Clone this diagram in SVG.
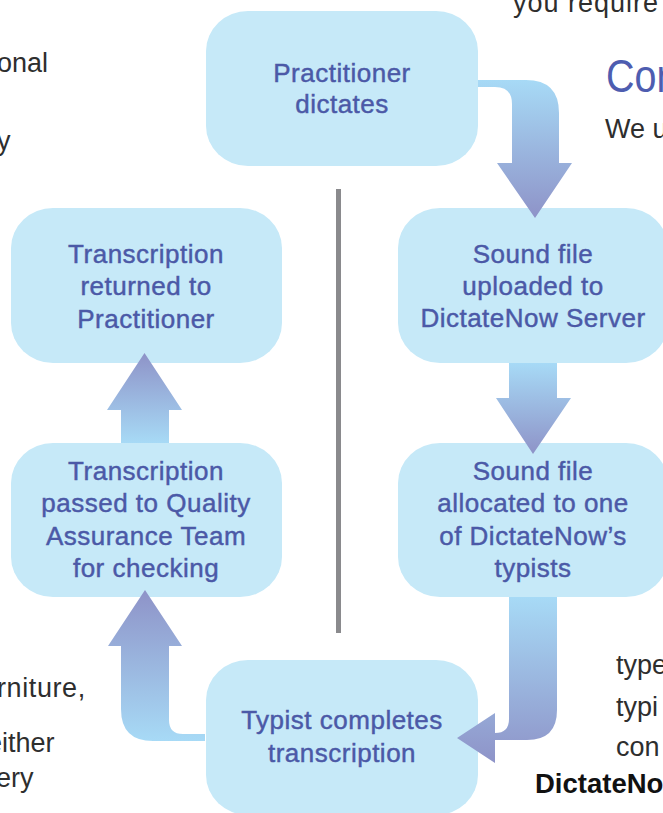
<svg xmlns="http://www.w3.org/2000/svg" width="663" height="813" viewBox="0 0 663 813">
<defs>
<linearGradient id="gDown" x1="0" y1="0" x2="0" y2="1">
<stop offset="0" stop-color="#a7daf6"/>
<stop offset="1" stop-color="#8e93c8"/>
</linearGradient>
<linearGradient id="gUp" x1="0" y1="0" x2="0" y2="1">
<stop offset="0" stop-color="#8e93c8"/>
<stop offset="1" stop-color="#a7daf6"/>
</linearGradient>
<style>
.node rect{fill:#c6e9f8}
.node text{font-family:"Liberation Sans",Arial,Helvetica,sans-serif;font-size:26px;letter-spacing:0.5px;fill:#4b59a7;stroke:#4b59a7;stroke-width:0.45px;text-anchor:middle}
.body{font-family:"Liberation Sans",Arial,Helvetica,sans-serif;font-size:27px;fill:#2e2e2e}
</style>
</defs>
<rect width="663" height="813" fill="#ffffff"/>

<g id="page-text">
<text class="body" x="513" y="12" letter-spacing="1">you require</text>
<text class="body" x="-3" y="72">onal</text>
<text class="body" x="-3" y="150">y</text>
<text x="606" y="92" font-family="Liberation Sans,Arial,sans-serif" font-size="47" fill="#4e5db0" transform="translate(606,0) scale(0.84,1) translate(-606,0)">Con</text>
<text class="body" x="605" y="138">We u</text>
<text class="body" x="-3" y="697" letter-spacing="0.6">rniture,</text>
<text class="body" x="-13" y="752">either</text>
<text class="body" x="-4" y="787">ery</text>
<text class="body" x="616" y="674">type</text>
<text class="body" x="616" y="716">typi</text>
<text class="body" x="616" y="756">con</text>
<text x="535" y="793" font-family="Liberation Sans,Arial,sans-serif" font-size="27.5" font-weight="bold" fill="#111111">DictateNo</text>
</g>

<rect id="divider" x="336" y="189" width="5" height="444" fill="#8a8a8d"/>

<g id="n1" class="node">
<rect x="206" y="11" width="272" height="155" rx="42" ry="40"/>
<text x="342" y="82">Practitioner</text>
<text x="342" y="113">dictates</text>
</g>
<g id="n2" class="node">
<rect x="398" y="208" width="270" height="155" rx="42" ry="40"/>
<text x="533" y="263">Sound file</text>
<text x="533" y="295">uploaded to</text>
<text x="533" y="327">DictateNow Server</text>
</g>
<g id="n3" class="node">
<rect x="398" y="443" width="270" height="154" rx="42" ry="40"/>
<text x="533" y="480">Sound file</text>
<text x="533" y="512">allocated to one</text>
<text x="533" y="545">of DictateNow’s</text>
<text x="533" y="577">typists</text>
</g>
<g id="n4" class="node">
<rect x="206" y="660" width="272" height="155" rx="42" ry="40"/>
<text x="342" y="729">Typist completes</text>
<text x="342" y="762">transcription</text>
</g>
<g id="n5" class="node">
<rect x="11" y="208" width="271" height="155" rx="42" ry="40"/>
<text x="146" y="263">Transcription</text>
<text x="146" y="295">returned to</text>
<text x="146" y="328">Practitioner</text>
</g>
<g id="n6" class="node">
<rect x="11" y="443" width="271" height="154" rx="42" ry="40"/>
<text x="146" y="480">Transcription</text>
<text x="146" y="512">passed to Quality</text>
<text x="146" y="545">Assurance Team</text>
<text x="146" y="577">for checking</text>
</g>

<g id="connectors">
<path d="M478,80 L526,80 Q559,80 559,113 L559,163 L572,163 L535,218 L497,163 L512,163 L512,104 Q512,87 495,87 L478,87 Z" fill="url(#gDown)"/>
<path d="M509,363 L557,363 L557,398 L571,398 L533,454 L496,398 L509,398 Z" fill="url(#gDown)"/>
<path d="M509,597 L557,597 L557,710 Q557,740 527,740 L495,740 L495,763 L457,738 L495,713 L495,733 Q509,733 509,719 Z" fill="url(#gDown)"/>
<path d="M205,734 L183,734 Q169,734 169,720 L169,646 L182,646 L145,590 L108,646 L121,646 L121,709 Q121,741 153,741 L205,741 Z" fill="url(#gUp)"/>
<path d="M121,443 L169,443 L169,410 L182,410 L144.5,353 L107,410 L121,410 Z" fill="url(#gUp)"/>
</g>
</svg>
